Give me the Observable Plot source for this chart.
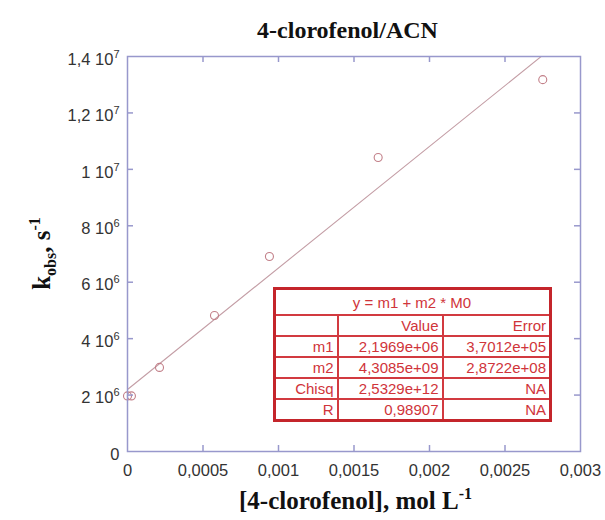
<!DOCTYPE html>
<html>
<head>
<meta charset="utf-8">
<script src="https://cdn.jsdelivr.net/npm/d3@7"></script>
<script src="https://cdn.jsdelivr.net/npm/@observablehq/plot@0.6"></script>
<style>
  html, body { margin: 0; padding: 0; background: #fff; }
  #wrap { position: relative; width: 605px; height: 520px; overflow: hidden; }
  #fit { position: absolute; left: 273px; top: 287px; border-collapse: collapse; table-layout: fixed;
         border: 3px solid #c4252b; font-family: "Liberation Sans", Arial, sans-serif; font-size: 15px;
         color: #d0343a; background: #fff; }
  #fit td { border: 2px solid #d23a40; padding: 0 3px 0 2px; height: 19px; line-height: 19px; text-align: right; white-space: nowrap; }
  #fit tr.head td { text-align: center; height: 24px; }
</style>
</head>
<body>
<div id="wrap"></div>
<script>
// ---- data ----
const conc = [0, 0.000026, 0.000212, 0.000576, 0.00094, 0.00166, 0.00275];
const kobs = [1.97e6, 1.97e6, 2.98e6, 4.82e6, 6.91e6, 1.042e7, 1.318e7];
const fitM1 = 2.1969e6;
const fitM2 = 4.3085e9;
const fitX = [0, 0.003];
const xTicks = [0, 0.0005, 0.001, 0.0015, 0.002, 0.0025, 0.003];
const xTickLabels = ["0", "0,0005", "0,001", "0,0015", "0,002", "0,0025", "0,003"];
const yTicks = [0, 2e6, 4e6, 6e6, 8e6, 1e7, 1.2e7, 1.4e7];
const yTickLabels = ["0", "2 10^6", "4 10^6", "6 10^6", "8 10^6", "1 10^7", "1,2 10^7", "1,4 10^7"];
const tableHeader = "y = m1 + m2 * M0";
const tableColumns = ["", "Value", "Error"];
const tableRowNames = ["m1", "m2", "Chisq", "R"];
const tableValues = ["2,1969e+06", "4,3085e+09", "2,5329e+12", "0,98907"];
const tableErrors = ["3,7012e+05", "2,8722e+08", "NA", "NA"];
const titleText = "4-clorofenol/ACN";

// ---- build ----
const points = conc.map((c, i) => ({x: c, y: kobs[i]}));
const fitLine = fitX.map(x => ({x, y: fitM1 + fitM2 * x}));
const xMap = new Map(xTicks.map((v, i) => [v, xTickLabels[i]]));
const yMap = new Map(yTicks.map((v, i) => [v, yTickLabels[i]]));
const innerX = xTicks.slice(1, -1);
const innerY = yTicks.slice(1, -1);
const frameColor = "#9898cc";
const W = 605, H = 520, mL = 127, mR = 25, mT = 56, mB = 69;
const fw = W - mL - mR, fh = H - mT - mB;
const tl = 6;

const chart = Plot.plot({
  width: W, height: H,
  marginLeft: mL, marginRight: mR, marginTop: mT, marginBottom: mB,
  style: {fontFamily: "'Liberation Sans', Arial, sans-serif", fontSize: "16.5px", color: "#333", background: "#fff"},
  x: {domain: [0, 0.003]},
  y: {domain: [0, 1.4e7]},
  marks: [
    Plot.line(fitLine, {x: "x", y: "y", stroke: "#c49ea6", strokeWidth: 1.1, clip: true}),
    Plot.dot(points, {x: "x", y: "y", r: 4, stroke: "#c27f88", strokeWidth: 1.1, fill: "none"}),
    Plot.tickX(innerX, {x: d => d, stroke: frameColor, strokeWidth: 1.5, insetTop: fh - tl}),
    Plot.tickX(innerX, {x: d => d, stroke: frameColor, strokeWidth: 1.5, insetBottom: fh - tl}),
    Plot.tickY(innerY, {y: d => d, stroke: frameColor, strokeWidth: 1.5, insetRight: fw - tl}),
    Plot.tickY(innerY, {y: d => d, stroke: frameColor, strokeWidth: 1.5, insetLeft: fw - tl}),
    Plot.frame({stroke: frameColor, strokeWidth: 1.5}),
    Plot.axisX(xTicks, {tickSize: 0, tickPadding: 13, tickFormat: d => xMap.get(d), label: null, fill: "#333"}),
    Plot.axisY(yTicks, {tickSize: 0, tickPadding: 8, tickFormat: d => yMap.get(d), label: null, dy: 3, fill: "#333"})
  ]
});

// superscripts in y tick labels
d3.select(chart).selectAll("text").each(function() {
  const t = this.textContent;
  if (t.includes("^")) {
    const [base, sup] = t.split("^");
    const sel = d3.select(this);
    sel.text(base);
    sel.append("tspan").attr("dy", "-7").attr("font-size", "11px").text(sup);
  }
});

const svg = d3.select(chart);
const serif = "'Liberation Serif', 'Times New Roman', serif";
// title
svg.append("text").attr("x", mL + fw / 2 - 6).attr("y", 38).attr("text-anchor", "middle")
  .attr("font-family", serif).attr("font-weight", "bold").attr("font-size", "24px").attr("fill", "#111")
  .text(titleText);
// x title
const xt = svg.append("text").attr("x", mL + fw / 2 + 2).attr("y", 509).attr("text-anchor", "middle")
  .attr("font-family", serif).attr("font-weight", "bold").attr("font-size", "25px").attr("fill", "#111");
xt.append("tspan").text("[4-clorofenol], mol L");
xt.append("tspan").attr("dy", "-10").attr("font-size", "16px").text("-1");
// y title
const yt = svg.append("text").attr("transform", `translate(50,${mT + fh / 2}) rotate(-90)`).attr("text-anchor", "middle")
  .attr("font-family", serif).attr("font-weight", "bold").attr("font-size", "25px").attr("fill", "#111");
yt.append("tspan").text("k");
yt.append("tspan").attr("dy", "6").attr("font-size", "16px").text("obs");
yt.append("tspan").attr("dy", "-6").text(", s");
yt.append("tspan").attr("dy", "-10").attr("font-size", "16px").text("-1");

const wrap = document.getElementById("wrap");
wrap.appendChild(chart);

// fit table
const table = document.createElement("table");
table.id = "fit";
const cg = document.createElement("colgroup");
[63, 105, 108].forEach(w => { const c = document.createElement("col"); c.style.width = w + "px"; cg.appendChild(c); });
table.appendChild(cg);
const hr = document.createElement("tr"); hr.className = "head";
const hc = document.createElement("td"); hc.colSpan = 3; hc.textContent = tableHeader; hr.appendChild(hc);
table.appendChild(hr);
const cr = document.createElement("tr");
tableColumns.forEach(c => { const td = document.createElement("td"); td.textContent = c; cr.appendChild(td); });
table.appendChild(cr);
tableRowNames.forEach((n, i) => {
  const tr = document.createElement("tr");
  [n, tableValues[i], tableErrors[i]].forEach(v => { const td = document.createElement("td"); td.textContent = v; tr.appendChild(td); });
  table.appendChild(tr);
});
wrap.appendChild(table);
</script>
</body>
</html>
